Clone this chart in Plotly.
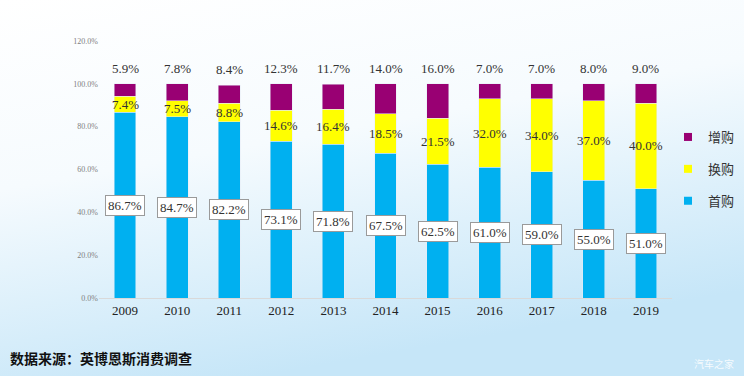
import base64
import plotly.graph_objects as go

years = ["2009", "2010", "2011", "2012", "2013", "2014", "2015", "2016", "2017", "2018", "2019"]
first_buy = [86.7, 84.7, 82.2, 73.1, 71.8, 67.5, 62.5, 61.0, 59.0, 55.0, 51.0]
replace_buy = [7.4, 7.5, 8.8, 14.6, 16.4, 18.5, 21.5, 32.0, 34.0, 37.0, 40.0]
add_buy = [5.9, 7.8, 8.4, 12.3, 11.7, 14.0, 16.0, 7.0, 7.0, 8.0, 9.0]
series_names = ["首购", "换购", "增购"]
y_ticks = [0, 20, 40, 60, 80, 100, 120]
y_tick_labels = ["0.0%", "20.0%", "40.0%", "60.0%", "80.0%", "100.0%", "120.0%"]

W, H = 744, 376
L, R, T, B = 99, 72, 41, 78
pw, ph = W - L - R, H - T - B

colors = ["#00B0F0", "#FFFF00", "#990073"]
lab_font = dict(family="Liberation Serif, DejaVu Serif, serif", size=13, color="#333333")

fig = go.Figure()
for name, vals, c in zip(series_names, [first_buy, replace_buy, add_buy], colors):
    fig.add_trace(go.Bar(x=years, y=vals, name=name, marker_color=c, width=0.42,
                         showlegend=False, legendgroup=name))
# legend entries (small square markers like the reference), top entry = top segment
for name, c in reversed(list(zip(series_names, colors))):
    fig.add_trace(go.Scatter(x=[None], y=[None], mode="markers", name=name, legendgroup=name,
                             marker=dict(symbol="square", size=8, color=c)))

anns = []
for i, yr in enumerate(years):
    f, r, a = first_buy[i], replace_buy[i], add_buy[i]
    anns.append(dict(x=i, y=f / 2, text=f"{f:.1f}%", showarrow=False, font=lab_font,
                     bgcolor="white", bordercolor="#9a9a9a", borderwidth=1, borderpad=2))
    anns.append(dict(x=i, y=f + r / 2, text=f"{r:.1f}%", showarrow=False, font=lab_font))
    anns.append(dict(x=i, y=f + r + a, text=f"{a:.1f}%", showarrow=False, font=lab_font,
                     yanchor="bottom", yshift=6))

anns.append(dict(xref="paper", yref="paper", x=(8 - L) / pw, y=-(358 - (T + ph)) / ph,
                 xanchor="left", yanchor="middle", showarrow=False,
                 text="<b>数据来源：英博恩斯消费调查</b>",
                 font=dict(family="Noto Sans CJK SC", size=14, color="#111111")))
anns.append(dict(xref="paper", yref="paper", x=(736 - L) / pw, y=-(363 - (T + ph)) / ph,
                 xanchor="right", yanchor="middle", showarrow=False, text="汽车之家",
                 font=dict(family="Noto Sans CJK SC", size=10, color="rgba(255,255,255,0.85)")))

svg = f'''<svg xmlns="http://www.w3.org/2000/svg" width="{W}" height="{H}">
<defs><linearGradient id="g" x1="0" y1="0" x2="0.35" y2="1">
<stop offset="0" stop-color="#ffffff"/><stop offset="0.45" stop-color="#f6fbfe"/>
<stop offset="1" stop-color="#c6e6f8"/></linearGradient></defs>
<rect width="{W}" height="{H}" fill="url(#g)"/></svg>'''
src = "data:image/svg+xml;base64," + base64.b64encode(svg.encode()).decode()

fig.update_layout(
    width=W, height=H, barmode="stack",
    margin=dict(l=L, r=R, t=T, b=B, autoexpand=False),
    paper_bgcolor="white", plot_bgcolor="rgba(0,0,0,0)",
    images=[dict(source=src, xref="paper", yref="paper", x=-L / pw, y=1 + T / ph,
                 sizex=W / pw, sizey=H / ph, xanchor="left", yanchor="top",
                 sizing="stretch", layer="below")],
    annotations=anns,
    showlegend=True,
    legend=dict(x=(668 - L) / pw, xanchor="left", y=(298 - 169) / ph, yanchor="middle",
                traceorder="grouped", bgcolor="rgba(0,0,0,0)",
                font=dict(family="Noto Sans CJK SC", size=13, color="#333333"),
                itemwidth=30, tracegroupgap=12),
    xaxis=dict(type="category", range=[-0.5, 10.5], showgrid=False, showline=True,
               linecolor="#d9d9d9", ticks="", tickfont=dict(family="Liberation Serif, serif", size=13, color="#222222")),
    yaxis=dict(range=[0, 120], tickvals=y_ticks, ticktext=y_tick_labels, showgrid=False,
               zeroline=False, showline=False, ticks="",
               tickfont=dict(family="Liberation Serif, serif", size=8, color="#7f7f7f")),
)

fig.write_html("out.html", config={"displayModeBar": False},
               post_script="document.body.style.margin='0';")
